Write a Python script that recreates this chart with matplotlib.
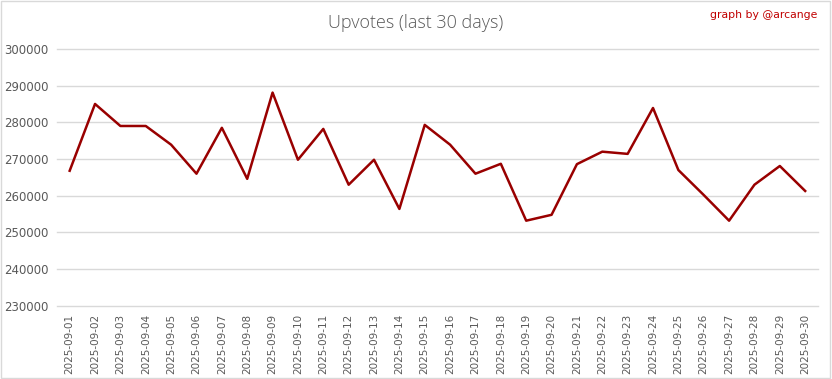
import matplotlib.pyplot as plt

dates = [f'2025-09-{d:02d}' for d in range(1, 31)]
upvotes = [
    266800, 285000, 279000, 279000, 273900, 266000, 278500, 264600, 288100, 269800,
    278200, 263000, 269800, 256400, 279300, 273900, 266000, 268700, 253200, 254800,
    268600, 272000, 271400, 283900, 267000, 260200, 253200, 263000, 268100, 261300,
]
y_ticks = [230000, 240000, 250000, 260000, 270000, 280000, 290000, 300000]

fig = plt.figure(figsize=(8.32, 3.79), dpi=100)
ax = fig.add_axes([0.0685, 0.193, 0.9145, 0.678])

ax.plot(range(len(dates)), upvotes, color='#990000', linewidth=1.8)
ax.set_xlim(-0.5, len(dates) - 0.5)
ax.set_ylim(y_ticks[0], y_ticks[-1])
ax.set_yticks(y_ticks)
ax.set_yticklabels([str(v) for v in y_ticks])
ax.set_xticks(range(len(dates)))
ax.set_xticklabels(dates, rotation=90)

ax.grid(axis='y', color='#d9d9d9', linewidth=1)
for gl in ax.yaxis.get_gridlines():
    gl.set_clip_on(False)
ax.set_axisbelow(True)
for s in ax.spines.values():
    s.set_visible(False)
ax.tick_params(axis='both', length=0, colors='#595959')
ax.tick_params(axis='y', labelsize=8.5, pad=6)
ax.tick_params(axis='x', labelsize=7.5, pad=6)

fig.text(0.5, 0.94, 'Upvotes (last 30 days)', ha='center', va='center',
         fontsize=13, color='#595959', fontfamily='Open Sans', fontweight='light')
fig.text(0.983, 0.96, 'graph by @arcange', ha='right', va='center',
         fontsize=7.8, color='#c00000')

# light frame round the whole picture
fig.patches.append(plt.Rectangle((0.001, 0.002), 0.997, 0.995, transform=fig.transFigure,
                                 fill=False, edgecolor='#d9d9d9', linewidth=1))

fig.savefig('out.png', dpi=100)
